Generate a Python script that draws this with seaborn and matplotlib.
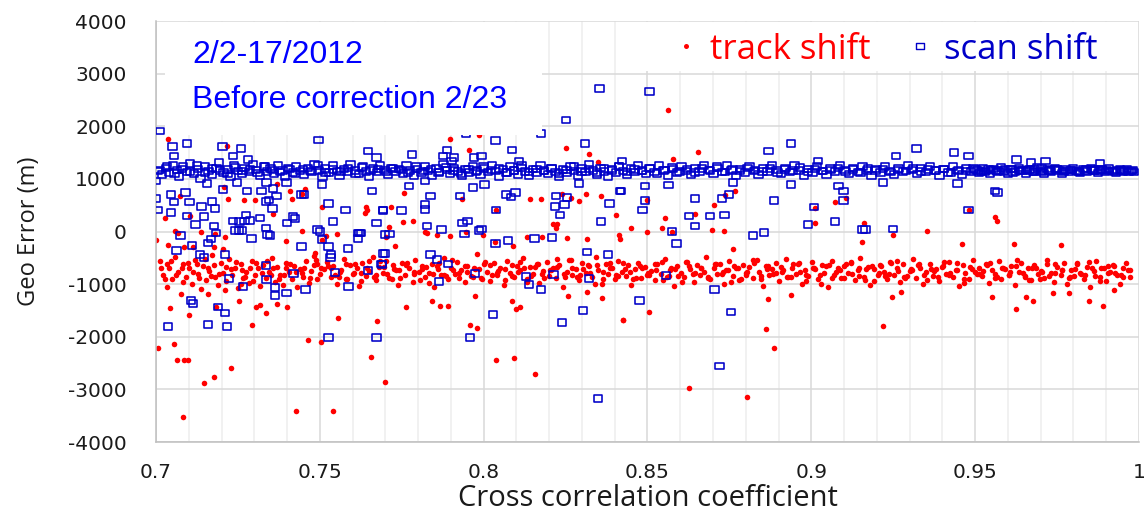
import pandas as pd
import matplotlib
matplotlib.use("Agg")
import matplotlib.pyplot as plt
import seaborn as sns
from matplotlib.lines import Line2D
from matplotlib.patches import Rectangle
from matplotlib.path import Path
from matplotlib.ticker import MultipleLocator

# ---- data (cross correlation coefficient, geo error in m) ----
x_ticks = [0.7, 0.75, 0.8, 0.85, 0.9, 0.95, 1.0]
x_tick_labels = ["0.7", "0.75", "0.8", "0.85", "0.9", "0.95", "1"]
y_ticks = [-4000, -3000, -2000, -1000, 0, 1000, 2000, 3000, 4000]
y_tick_labels = ["-4000", "-3000", "-2000", "-1000", "0", "1000", "2000", "3000", "4000"]

series_names = ["track shift", "scan shift"]
title_lines = ["2/2-17/2012", "Before correction 2/23"]

# track shift: main cluster at low coefficients (0.70-0.75)
red_band_low = [
    (0.7012, -560), (0.7021, -820), (0.7033, -1050), (0.7041, -690), (0.7049, -900), (0.7058, -480), (0.7066, -760), (0.7075, -1180), (0.7084, -620), (0.7092, -860),
    (0.7101, -700), (0.7110, -990), (0.7119, -540), (0.7127, -800), (0.7136, -1100), (0.7145, -660), (0.7153, -920), (0.7162, -750), (0.7171, -450), (0.7180, -870),
    (0.7188, -1020), (0.7197, -600), (0.7206, -780), (0.7214, -940), (0.7223, -520), (0.7232, -830), (0.7240, -700), (0.7249, -1080), (0.7258, -610), (0.7266, -890),
    (0.7275, -760), (0.7284, -980), (0.7292, -560), (0.7301, -820), (0.7310, -700), (0.7318, -1040), (0.7327, -640), (0.7336, -880), (0.7344, -760), (0.7353, -500),
    (0.7362, -950), (0.7370, -680), (0.7379, -830), (0.7388, -1010), (0.7396, -590), (0.7405, -770), (0.7414, -900), (0.7422, -650), (0.7431, -1060), (0.7440, -720),
    (0.7448, -860), (0.7457, -560), (0.7466, -980), (0.7474, -750), (0.7483, -640), (0.7492, -900), (0.7500, -800),
    (0.7035, -620), (0.7078, -700), (0.7125, -620), (0.7168, -850), (0.7215, -680), (0.7262, -740), (0.7305, -600), (0.7352, -820), (0.7398, -700), (0.7445, -780), (0.7490, -620),
    (0.7016, -700), (0.7029, -900), (0.7047, -560), (0.7062, -830), (0.7081, -960), (0.7097, -600), (0.7113, -760), (0.7131, -880), (0.7149, -520), (0.7158, -700),
    (0.7177, -640), (0.7193, -800), (0.7211, -1120), (0.7228, -720), (0.7245, -580), (0.7271, -860), (0.7288, -700), (0.7297, -940), (0.7323, -780), (0.7340, -560),
    (0.7358, -700), (0.7375, -900), (0.7392, -820), (0.7410, -620), (0.7427, -760), (0.7452, -700), (0.7470, -880), (0.7487, -540), (0.7505, -690), (0.7259, -1000),
]

# track shift: main cluster, first pass (0.75-1.0)
red_band_a = [
    (0.7512, -720), (0.7521, -580), (0.7533, -860), (0.7540, -650), (0.7552, -990), (0.7561, -770), (0.7573, -520), (0.7580, -900), (0.7592, -630), (0.7600, -810),
    (0.7613, -700), (0.7621, -1040), (0.7630, -600), (0.7642, -840), (0.7650, -750), (0.7661, -480), (0.7673, -920), (0.7680, -680), (0.7692, -790), (0.7701, -560),
    (0.7710, -880), (0.7722, -640), (0.7731, -730), (0.7740, -1010), (0.7752, -590), (0.7760, -820), (0.7771, -700), (0.7783, -950), (0.7790, -540), (0.7802, -760),
    (0.7811, -660), (0.7820, -870), (0.7832, -780), (0.7841, -610), (0.7850, -1060), (0.7862, -720), (0.7871, -830), (0.7880, -500), (0.7892, -910), (0.7901, -690),
    (0.7913, -800), (0.7920, -570), (0.7931, -740), (0.7942, -960), (0.7950, -650), (0.7961, -850), (0.7973, -710), (0.7980, -430), (0.7991, -890), (0.8002, -620),
    (0.8011, -760), (0.8020, -940), (0.8032, -600), (0.8041, -820), (0.8050, -690), (0.8062, -1020), (0.8071, -560), (0.8080, -780), (0.8092, -870), (0.8101, -650),
    (0.8110, -730), (0.8121, -510), (0.8133, -900), (0.8140, -680), (0.8151, -800), (0.8162, -620), (0.8170, -980), (0.8181, -750), (0.8193, -580), (0.8200, -840),
    (0.8211, -700), (0.8222, -880), (0.8230, -640), (0.8241, -1050), (0.8253, -770), (0.8260, -540), (0.8271, -820), (0.8282, -710), (0.8290, -930), (0.8301, -600),
    (0.8312, -790), (0.8320, -660), (0.8331, -860), (0.8343, -480), (0.8350, -740), (0.8361, -990), (0.8372, -620), (0.8380, -810), (0.8391, -700), (0.8402, -900),
    (0.8410, -560), (0.8421, -770), (0.8433, -850), (0.8440, -640), (0.8451, -1010), (0.8462, -720), (0.8470, -590), (0.8481, -880), (0.8492, -680), (0.8500, -830),
    (0.8511, -750), (0.8522, -930), (0.8530, -610), (0.8541, -800), (0.8553, -530), (0.8560, -870), (0.8571, -700), (0.8582, -1040), (0.8590, -650), (0.8601, -790),
    (0.8612, -860), (0.8620, -580), (0.8631, -720), (0.8643, -960), (0.8650, -640), (0.8661, -820), (0.8672, -760), (0.8680, -490), (0.8691, -900), (0.8702, -690),
    (0.8711, -810), (0.8720, -620), (0.8732, -1000), (0.8741, -740), (0.8750, -560), (0.8762, -850), (0.8771, -700), (0.8780, -920), (0.8792, -630), (0.8801, -780),
    (0.8810, -680), (0.8821, -890), (0.8833, -550), (0.8840, -770), (0.8851, -1030), (0.8862, -650), (0.8870, -830), (0.8881, -720), (0.8892, -600), (0.8900, -940),
    (0.8911, -760), (0.8922, -520), (0.8930, -870), (0.8941, -690), (0.8953, -800), (0.8960, -620), (0.8971, -990), (0.8982, -730), (0.8990, -850), (0.9001, -580),
    (0.9010, -710), (0.9021, -910), (0.9033, -640), (0.9040, -780), (0.9051, -1050), (0.9062, -560), (0.9070, -820), (0.9081, -700), (0.9092, -880), (0.9100, -660),
    (0.9111, -790), (0.9120, -600), (0.9132, -930), (0.9141, -740), (0.9150, -510), (0.9161, -860), (0.9173, -680), (0.9180, -1010), (0.9191, -720), (0.9202, -830),
    (0.9210, -640), (0.9221, -770), (0.9232, -900), (0.9240, -580), (0.9251, -820), (0.9262, -700), (0.9270, -960), (0.9281, -620), (0.9293, -850), (0.9300, -750),
    (0.9311, -530), (0.9320, -880), (0.9331, -690), (0.9342, -1000), (0.9350, -760), (0.9361, -610), (0.9372, -840), (0.9380, -720), (0.9391, -940), (0.9402, -660),
    (0.9410, -800), (0.9421, -570), (0.9433, -870), (0.9440, -730), (0.9451, -1040), (0.9462, -640), (0.9470, -790), (0.9481, -910), (0.9492, -550), (0.9500, -760),
    (0.9511, -690), (0.9520, -850), (0.9532, -620), (0.9541, -980), (0.9550, -740), (0.9561, -800), (0.9572, -560), (0.9580, -900), (0.9591, -710), (0.9602, -830),
    (0.9610, -650), (0.9621, -1020), (0.9633, -770), (0.9640, -590), (0.9651, -860), (0.9662, -700), (0.9670, -930), (0.9681, -630), (0.9692, -810), (0.9700, -750),
    (0.9711, -880), (0.9720, -540), (0.9732, -780), (0.9741, -960), (0.9750, -670), (0.9761, -820), (0.9772, -600), (0.9780, -1000), (0.9791, -730), (0.9802, -850),
    (0.9810, -620), (0.9821, -790), (0.9833, -900), (0.9840, -680), (0.9851, -1050), (0.9862, -750), (0.9870, -560), (0.9881, -870), (0.9892, -700), (0.9900, -940),
    (0.9911, -760), (0.9920, -640), (0.9932, -830), (0.9941, -1000), (0.9950, -700), (0.9961, -590), (0.9972, -860),
]

# track shift: main cluster, second pass (denser core)
red_band_b = [
    (0.7525, -650), (0.7546, -820), (0.7565, -740), (0.7584, -900), (0.7606, -610), (0.7625, -780), (0.7644, -700), (0.7666, -860), (0.7685, -560), (0.7704, -800),
    (0.7726, -720), (0.7745, -880), (0.7764, -640), (0.7786, -760), (0.7805, -930), (0.7824, -680), (0.7846, -810), (0.7865, -600), (0.7884, -850), (0.7906, -740),
    (0.7925, -790), (0.7944, -660), (0.7966, -870), (0.7985, -710), (0.8004, -580), (0.8026, -830), (0.8045, -750), (0.8064, -920), (0.8086, -630), (0.8105, -770),
    (0.8124, -700), (0.8146, -840), (0.8165, -620), (0.8184, -890), (0.8206, -730), (0.8225, -670), (0.8244, -800), (0.8266, -550), (0.8285, -860), (0.8304, -720),
    (0.8326, -780), (0.8345, -640), (0.8364, -910), (0.8386, -700), (0.8405, -820), (0.8424, -600), (0.8446, -760), (0.8465, -880), (0.8484, -690), (0.8506, -830),
    (0.8525, -740), (0.8544, -580), (0.8566, -850), (0.8585, -720), (0.8604, -950), (0.8626, -650), (0.8645, -790), (0.8664, -700), (0.8686, -870), (0.8705, -620),
    (0.8726, -810), (0.8745, -730), (0.8764, -660), (0.8786, -900), (0.8805, -760), (0.8824, -590), (0.8846, -840), (0.8865, -710), (0.8884, -800), (0.8906, -680),
    (0.8925, -860), (0.8944, -620), (0.8966, -770), (0.8985, -940), (0.9004, -700), (0.9026, -830), (0.9045, -650), (0.9064, -880), (0.9086, -740), (0.9105, -610),
    (0.9124, -800), (0.9146, -700), (0.9165, -920), (0.9184, -660), (0.9206, -780), (0.9225, -850), (0.9244, -600), (0.9266, -750), (0.9285, -890), (0.9304, -720),
    (0.9326, -640), (0.9345, -820), (0.9364, -710), (0.9386, -870), (0.9405, -580), (0.9424, -790), (0.9446, -730), (0.9465, -900), (0.9484, -670), (0.9506, -810),
    (0.9525, -750), (0.9544, -600), (0.9566, -860), (0.9585, -700), (0.9604, -830), (0.9626, -650), (0.9645, -780), (0.9664, -920), (0.9686, -690), (0.9705, -760),
    (0.9726, -840), (0.9745, -620), (0.9764, -730), (0.9786, -880), (0.9805, -710), (0.9824, -800), (0.9846, -570), (0.9865, -850), (0.9884, -700), (0.9906, -780),
    (0.9925, -660), (0.9944, -820), (0.9965, -740),
]

# track shift: main cluster, third pass
red_band_c = [
    (0.7535, -700), (0.7558, -860), (0.7581, -620), (0.7604, -780), (0.7627, -940), (0.7650, -560), (0.7673, -820), (0.7696, -680), (0.7719, -900), (0.7742, -740),
    (0.7765, -600), (0.7788, -800), (0.7811, -720), (0.7834, -970), (0.7857, -650), (0.7880, -830), (0.7903, -540), (0.7926, -880), (0.7949, -760), (0.7972, -690),
    (0.7995, -910), (0.8018, -630), (0.8041, -790), (0.8064, -710), (0.8087, -850), (0.8110, -580), (0.8133, -950), (0.8156, -670), (0.8179, -810), (0.8202, -740),
    (0.8225, -520), (0.8248, -870), (0.8271, -700), (0.8294, -820), (0.8317, -640), (0.8340, -990), (0.8363, -760), (0.8386, -590), (0.8409, -840), (0.8432, -720),
    (0.8455, -900), (0.8478, -660), (0.8501, -780), (0.8524, -610), (0.8547, -930), (0.8570, -740), (0.8593, -850), (0.8616, -570), (0.8639, -800), (0.8662, -690),
    (0.8685, -880), (0.8708, -620), (0.8731, -760), (0.8754, -960), (0.8777, -700), (0.8800, -830), (0.8823, -550), (0.8846, -910), (0.8869, -650), (0.8892, -790),
    (0.8915, -730), (0.8938, -870), (0.8961, -600), (0.8984, -820), (0.9007, -690), (0.9030, -1000), (0.9053, -640), (0.9076, -770), (0.9099, -890), (0.9122, -580),
    (0.9145, -840), (0.9168, -710), (0.9191, -940), (0.9214, -660), (0.9237, -800), (0.9260, -560), (0.9283, -860), (0.9306, -730), (0.9329, -620), (0.9352, -920),
    (0.9375, -750), (0.9398, -680), (0.9421, -830), (0.9444, -590), (0.9467, -970), (0.9490, -720), (0.9513, -810), (0.9536, -640), (0.9559, -880), (0.9582, -700),
    (0.9605, -760), (0.9628, -540), (0.9651, -850), (0.9674, -690), (0.9697, -910), (0.9720, -620), (0.9743, -790), (0.9766, -730), (0.9789, -860), (0.9812, -600),
    (0.9835, -820), (0.9858, -700), (0.9881, -940), (0.9904, -650), (0.9927, -780), (0.9950, -870), (0.9973, -730),
]

# track shift: scattered points away from the main cluster
red_outliers = [
    (0.7038, 1766), (0.7216, 1625), (0.7073, 673), (0.7220, 620), (0.7270, 590), (0.7302, 600), (0.7207, 851), (0.7368, 895), (0.7409, 768), (0.7414, 610),
    (0.7447, 720), (0.7454, 800), (0.7508, 470), (0.7642, 470), (0.7645, 400), (0.7637, 350), (0.7027, 248), (0.7104, 292), (0.7357, 324), (0.7058, 6),
    (0.7067, -20), (0.7000, -165), (0.7137, 0), (0.7180, -40), (0.7210, -95), (0.7038, -250), (0.7086, -290), (0.7114, -300), (0.7176, -300), (0.7205, -330),
    (0.7447, 6), (0.7398, -171), (0.7508, -165), (0.7520, -89), (0.7553, -38), (0.7486, -400), (0.7482, -470),
    (0.7043, -1454), (0.7102, -1581), (0.7183, -1435), (0.7254, -1314), (0.7306, -1435), (0.7316, -1397), (0.7159, -1187), (0.7337, -1549), (0.7368, -1372), (0.7401, -1435),
    (0.7294, -1772), (0.7554, -1645), (0.7674, -1709), (0.7464, -2057), (0.7503, -2101), (0.7007, -2216), (0.7056, -2134), (0.7063, -2438), (0.7086, -2438), (0.7097, -2438),
    (0.7146, -2882), (0.7178, -2768), (0.7229, -2585), (0.7081, -3518), (0.7426, -3404), (0.7541, -3404), (0.7655, -2375), (0.7699, -2857), (0.8037, -2438), (0.8094, -2406),
    (0.8158, -2705),
    (0.7896, 1766), (0.7985, 1829), (0.7954, 1548), (0.8252, 1581), (0.8321, 1467), (0.8348, 1320), (0.7756, 737), (0.7718, 463), (0.7935, 623), (0.8140, 610),
    (0.8176, 623), (0.8240, 705), (0.8267, 642), (0.8290, 577), (0.8311, 705), (0.8359, 673), (0.8405, 311), (0.8037, 406), (0.7754, 178), (0.7784, 196),
    (0.7820, 0), (0.7826, -20), (0.7858, -60), (0.7898, -80), (0.7945, -10), (0.7998, -60), (0.8034, -203), (0.8090, -280), (0.8132, -100), (0.8178, -110),
    (0.8253, -120), (0.8314, -140), (0.8412, -60), (0.8416, -140), (0.8220, 70), (0.8212, 140), (0.8225, 140), (0.7710, 89), (0.7701, -110), (0.7729, -280),
    (0.7841, -1327), (0.7866, -1410), (0.7891, -1410), (0.7762, -1435), (0.8087, -1314), (0.8098, -1473), (0.8112, -1435), (0.7973, -1232), (0.7957, -1772), (0.7979, -1835),
    (0.8425, -1676), (0.8362, -1263), (0.8316, -1150), (0.8257, -1230),
    (0.8564, 2311), (0.8653, 1518), (0.8577, 1372), (0.8768, 768), (0.8738, 700), (0.8704, 495), (0.8646, 324), (0.8552, 260), (0.8499, 590), (0.8450, 70),
    (0.8545, 70), (0.8499, -13), (0.8575, 0), (0.8697, 38), (0.8735, 6), (0.9072, 559), (0.9106, 642), (0.9011, 451), (0.9011, 165), (0.9162, 165),
    (0.9155, -203), (0.8760, -324), (0.8869, -1282), (0.8506, -1530), (0.8425, -1676), (0.8938, -1200), (0.8862, -1854), (0.8887, -2216), (0.8628, -2970), (0.8805, -3150),
    (0.9481, 406), (0.9561, 280), (0.9568, 196), (0.9352, 19), (0.9250, -57), (0.9459, -229), (0.9619, -229), (0.9763, -261), (0.9218, -1804), (0.9624, -1473),
    (0.9656, -1251), (0.9677, -1314), (0.9846, -1314), (0.9890, -1410), (0.9245, -1251), (0.9275, -1156), (0.9552, -1251), (0.9738, -1168), (0.9786, -1168), (0.9924, -1105),
]

# scan shift: main cluster just above 1000 m
blue_band = [
    (0.7005, 1150), (0.7018, 1080), (0.7031, 1210), (0.7040, 1120), (0.7052, 1260), (0.7064, 1170), (0.7071, 1050), (0.7083, 1230), (0.7095, 1130), (0.7104, 1290),
    (0.7117, 1100), (0.7128, 1190), (0.7136, 1010), (0.7149, 1240), (0.7160, 1150), (0.7172, 1080), (0.7185, 1200), (0.7193, 1310), (0.7206, 1120), (0.7218, 1180),
    (0.7227, 1040), (0.7239, 1250), (0.7251, 1150), (0.7263, 1090), (0.7270, 1210), (0.7284, 1130), (0.7296, 1280), (0.7305, 1170), (0.7318, 1060), (0.7329, 1230),
    (0.7338, 1140), (0.7350, 1200), (0.7361, 1100), (0.7373, 1260), (0.7386, 1160), (0.7394, 1050), (0.7407, 1190), (0.7419, 1120), (0.7428, 1240), (0.7440, 1150),
    (0.7452, 1080), (0.7463, 1210), (0.7475, 1130), (0.7484, 1280), (0.7497, 1160), (0.7508, 1050),
    (0.7516, 1200), (0.7529, 1120), (0.7541, 1250), (0.7552, 1150), (0.7560, 1060), (0.7573, 1190), (0.7585, 1130), (0.7594, 1270), (0.7607, 1160), (0.7619, 1090),
    (0.7628, 1220), (0.7640, 1140), (0.7651, 1040), (0.7663, 1200), (0.7675, 1130), (0.7684, 1260), (0.7697, 1170), (0.7709, 1080), (0.7718, 1210), (0.7731, 1140),
    (0.7742, 1190), (0.7754, 1100), (0.7765, 1250), (0.7776, 1160), (0.7788, 1060), (0.7797, 1190), (0.7810, 1120), (0.7822, 1230), (0.7831, 1150), (0.7843, 1070),
    (0.7856, 1200), (0.7864, 1130), (0.7877, 1280), (0.7889, 1170), (0.7898, 1090), (0.7910, 1210), (0.7922, 1140), (0.7933, 1060), (0.7945, 1190), (0.7956, 1120),
    (0.7968, 1240), (0.7979, 1160), (0.7990, 1080), (0.8002, 1200), (0.8013, 1130), (0.8025, 1260), (0.8036, 1150), (0.8047, 1050), (0.8059, 1190), (0.8071, 1120),
    (0.8080, 1230), (0.8093, 1160), (0.8104, 1080), (0.8116, 1210), (0.8127, 1140), (0.8139, 1060), (0.8150, 1190), (0.8161, 1120), (0.8173, 1250), (0.8184, 1160),
    (0.8196, 1090), (0.8207, 1200), (0.8219, 1130), (0.8230, 1040), (0.8242, 1180), (0.8253, 1110), (0.8265, 1240), (0.8276, 1150), (0.8288, 1070), (0.8299, 1200),
    (0.8311, 1130), (0.8322, 1270), (0.8334, 1160), (0.8345, 1080), (0.8357, 1210), (0.8368, 1140), (0.8380, 1050), (0.8391, 1190), (0.8403, 1120), (0.8414, 1230),
    (0.8426, 1150), (0.8437, 1080), (0.8449, 1200), (0.8460, 1130), (0.8472, 1260), (0.8483, 1160), (0.8495, 1090),
    (0.8508, 1200), (0.8521, 1130), (0.8535, 1250), (0.8549, 1160), (0.8563, 1070), (0.8577, 1190), (0.8590, 1120), (0.8604, 1230), (0.8618, 1150), (0.8632, 1080),
    (0.8646, 1200), (0.8659, 1140), (0.8673, 1260), (0.8687, 1170), (0.8701, 1090), (0.8714, 1210), (0.8728, 1130), (0.8742, 1250), (0.8756, 1160), (0.8770, 1070),
    (0.8783, 1190), (0.8797, 1120), (0.8811, 1230), (0.8825, 1150), (0.8839, 1080), (0.8852, 1200), (0.8866, 1140), (0.8880, 1260), (0.8894, 1170), (0.8908, 1090),
    (0.8921, 1210), (0.8935, 1130), (0.8949, 1250), (0.8963, 1160), (0.8977, 1070), (0.8990, 1190), (0.9004, 1120), (0.9018, 1240), (0.9032, 1150), (0.9046, 1080),
    (0.9059, 1200), (0.9073, 1140), (0.9087, 1260), (0.9101, 1170), (0.9115, 1090), (0.9128, 1210), (0.9142, 1130), (0.9156, 1240), (0.9170, 1160), (0.9184, 1070),
    (0.9197, 1190), (0.9211, 1120), (0.9225, 1230), (0.9239, 1150), (0.9253, 1080), (0.9266, 1200), (0.9280, 1140), (0.9294, 1250), (0.9308, 1170), (0.9322, 1090),
    (0.9335, 1210), (0.9349, 1130), (0.9363, 1240), (0.9377, 1160), (0.9391, 1070), (0.9404, 1190), (0.9418, 1120), (0.9432, 1230), (0.9446, 1150), (0.9460, 1080),
    (0.9473, 1200), (0.9487, 1140),
    (0.9501, 1180), (0.9512, 1110), (0.9523, 1210), (0.9534, 1150), (0.9545, 1090), (0.9556, 1190), (0.9567, 1130), (0.9578, 1220), (0.9589, 1160), (0.9600, 1100),
    (0.9611, 1190), (0.9622, 1140), (0.9633, 1210), (0.9644, 1160), (0.9655, 1090), (0.9666, 1180), (0.9677, 1130), (0.9688, 1220), (0.9699, 1150), (0.9710, 1100),
    (0.9721, 1190), (0.9732, 1140), (0.9743, 1200), (0.9754, 1160), (0.9765, 1100), (0.9776, 1180), (0.9787, 1130), (0.9798, 1210), (0.9809, 1150), (0.9820, 1110),
    (0.9831, 1190), (0.9842, 1140), (0.9853, 1200), (0.9864, 1160), (0.9875, 1110), (0.9886, 1180), (0.9897, 1130), (0.9908, 1200), (0.9919, 1150), (0.9930, 1120),
    (0.9941, 1180), (0.9952, 1140), (0.9963, 1190), (0.9974, 1150), (0.9985, 1130),
]

# scan shift: main cluster, second pass (it reads as an almost solid bar)
blue_band_b = [
    (0.7011, 1170), (0.7034, 1230), (0.7057, 1100), (0.7080, 1190), (0.7103, 1140), (0.7126, 1250), (0.7149, 1120), (0.7172, 1200), (0.7195, 1160), (0.7218, 1090),
    (0.7241, 1220), (0.7264, 1150), (0.7287, 1180), (0.7310, 1110), (0.7333, 1240), (0.7356, 1170), (0.7379, 1130), (0.7402, 1210), (0.7425, 1090), (0.7448, 1190),
    (0.7471, 1150), (0.7494, 1260), (0.7517, 1120), (0.7540, 1180), (0.7563, 1140), (0.7586, 1210), (0.7609, 1100), (0.7632, 1230), (0.7655, 1160), (0.7678, 1190),
    (0.7701, 1130), (0.7724, 1200), (0.7747, 1170), (0.7770, 1110), (0.7793, 1240), (0.7816, 1150), (0.7839, 1190), (0.7862, 1120), (0.7885, 1220), (0.7908, 1160),
    (0.7931, 1100), (0.7954, 1180), (0.7977, 1140), (0.8000, 1230), (0.8023, 1170), (0.8046, 1200), (0.8069, 1120), (0.8092, 1160), (0.8115, 1250), (0.8138, 1130),
    (0.8161, 1190), (0.8184, 1150), (0.8207, 1210), (0.8230, 1100), (0.8253, 1170), (0.8276, 1230), (0.8299, 1140), (0.8322, 1190), (0.8345, 1120), (0.8368, 1200),
    (0.8391, 1160), (0.8414, 1240), (0.8437, 1130), (0.8460, 1180), (0.8483, 1150), (0.8506, 1210), (0.8529, 1100), (0.8552, 1170), (0.8575, 1220), (0.8598, 1140),
    (0.8621, 1190), (0.8644, 1120), (0.8667, 1200), (0.8690, 1160), (0.8713, 1230), (0.8736, 1130), (0.8759, 1180), (0.8782, 1150), (0.8805, 1210), (0.8828, 1170),
    (0.8851, 1140), (0.8874, 1200), (0.8897, 1120), (0.8920, 1180), (0.8943, 1160), (0.8966, 1220), (0.8989, 1130), (0.9012, 1190), (0.9035, 1150), (0.9058, 1170),
    (0.9081, 1210), (0.9104, 1140), (0.9127, 1180), (0.9150, 1120), (0.9173, 1200), (0.9196, 1160), (0.9219, 1190), (0.9242, 1130), (0.9265, 1170), (0.9288, 1150),
    (0.9311, 1200), (0.9334, 1140), (0.9357, 1180), (0.9380, 1160), (0.9403, 1190), (0.9426, 1120), (0.9449, 1170), (0.9472, 1150), (0.9495, 1200), (0.9518, 1140),
    (0.9541, 1180), (0.9564, 1160), (0.9587, 1130), (0.9610, 1190), (0.9633, 1150), (0.9656, 1170), (0.9679, 1140), (0.9702, 1200), (0.9725, 1160), (0.9748, 1180),
    (0.9771, 1150), (0.9794, 1170), (0.9817, 1140), (0.9840, 1190), (0.9863, 1160), (0.9886, 1180), (0.9909, 1150), (0.9932, 1170), (0.9955, 1160), (0.9978, 1150),
    (0.9507, 1160), (0.9528, 1130), (0.9549, 1170), (0.9571, 1150), (0.9592, 1190), (0.9616, 1120), (0.9638, 1170), (0.9659, 1150), (0.9682, 1180), (0.9704, 1130),
    (0.9727, 1160), (0.9749, 1190), (0.9770, 1140), (0.9792, 1170), (0.9815, 1130), (0.9836, 1160), (0.9858, 1180), (0.9880, 1150), (0.9902, 1170), (0.9924, 1140),
    (0.9946, 1160), (0.9968, 1130), (0.9980, 1170),
]

# scan shift: scattered points away from the main cluster
blue_outliers = [
    (0.7012, 1910), (0.7050, 1613), (0.7095, 1676), (0.7056, 1435), (0.7203, 1613), (0.7260, 1575), (0.7235, 1435), (0.7280, 1372), (0.7496, 1740), (0.7648, 1530),
    (0.7673, 1410), (0.7000, 960), (0.7000, 623), (0.7007, 406), (0.7045, 705), (0.7056, 559), (0.7045, 356), (0.7090, 737), (0.7102, 559), (0.7094, 292),
    (0.7121, 133), (0.7139, 470), (0.7147, 280), (0.7172, 566), (0.7180, 438), (0.7177, 102), (0.7205, 800), (0.7248, 927), (0.7156, 916), (0.7277, 768),
    (0.7322, 768), (0.7358, 813), (0.7368, 673), (0.7335, 570), (0.7345, 600), (0.7356, 432), (0.7274, 311), (0.7317, 260), (0.7236, 200), (0.7255, 190),
    (0.7270, 200), (0.7286, 210), (0.7243, 19), (0.7253, 19), (0.7262, 19), (0.7183, -25), (0.7167, -140), (0.7159, -216), (0.7075, -70), (0.7109, -261),
    (0.7063, -356), (0.7134, -438), (0.7147, -500), (0.7210, -438), (0.7292, -133), (0.7335, 70), (0.7340, -60), (0.7348, -80), (0.7400, 165), (0.7419, 280),
    (0.7424, 242), (0.7444, 705), (0.7452, 705), (0.7398, 927), (0.7337, 927), (0.7507, 895), (0.7527, 527), (0.7578, 406), (0.7540, 196), (0.7493, 38),
    (0.7500, 6), (0.7507, -152), (0.7527, -280), (0.7535, -438), (0.7533, -500), (0.7444, -280), (0.7420, -800), (0.7335, -642), (0.7337, -914), (0.7363, -1061),
    (0.7363, -1219), (0.7398, -1168), (0.7456, -1105), (0.7223, -895), (0.7266, -1042), (0.7588, -1042), (0.7546, -775), (0.7647, -737), (0.7693, -419), (0.7688, -615),
    (0.7107, -1314), (0.7114, -1372), (0.7190, -1435), (0.7210, -1549), (0.7037, -1804), (0.7159, -1772), (0.7217, -1804), (0.7527, -2013), (0.7673, -2013), (0.7660, 768),
    (0.7693, 406), (0.7673, 165), (0.7617, -25), (0.7621, -25), (0.7625, -25), (0.7617, -133), (0.7586, -324), (0.7698, -57),
    (0.8252, 2120), (0.8176, 1861), (0.7947, 1861), (0.8036, 1734), (0.8309, 1676), (0.7889, 1548), (0.7876, 1435), (0.7909, 1404), (0.7902, 1340), (0.7970, 1404),
    (0.7993, 1435), (0.7781, 1467), (0.8086, 1548), (0.8108, 1340), (0.8422, 1340), (0.7772, 863), (0.7820, 958), (0.7967, 832), (0.8003, 895), (0.7838, 673),
    (0.7927, 673), (0.8069, 705), (0.8084, 653), (0.8097, 737), (0.8290, 914), (0.8221, 673), (0.8255, 642), (0.8247, 514), (0.8218, 470), (0.8232, 311),
    (0.8384, 527), (0.8417, 768), (0.7693, 400), (0.7749, 400), (0.7820, 420), (0.7820, 514), (0.8037, 406), (0.8359, 196), (0.7828, 102), (0.7871, 38),
    (0.7935, 165), (0.7951, 200), (0.7942, -44), (0.7985, 19), (0.7993, 51), (0.7713, -44), (0.8036, -229), (0.8074, -165), (0.8155, -133), (0.8208, -108),
    (0.7698, -419), (0.7690, -629), (0.7838, -438), (0.7858, -533), (0.7891, -615), (0.7864, -946), (0.7973, -800), (0.8130, -851), (0.8138, -1010), (0.8176, -1105),
    (0.8213, -819), (0.8316, -387), (0.8379, -438), (0.8321, -895), (0.8303, -1499), (0.8240, -1728), (0.8028, -1581), (0.7959, -2013),
    (0.8354, 2720), (0.8506, 2660),
    (0.8938, 1676), (0.8869, 1530), (0.9021, 1340), (0.8493, 863), (0.8564, 882), (0.8938, 895), (0.8760, 927), (0.9083, 863), (0.9098, 768), (0.8420, 768),
    (0.8493, 590), (0.8485, 406), (0.8646, 623), (0.8728, 623), (0.8748, 705), (0.8887, 590), (0.9009, 463), (0.9098, 590), (0.8626, 292), (0.8691, 292),
    (0.8735, 311), (0.8646, 102), (0.8575, 6), (0.8589, -229), (0.8823, -70), (0.8855, -13), (0.8989, 133), (0.9073, 196), (0.9156, 38), (0.9165, 38),
    (0.8557, -832), (0.8705, -1105), (0.8476, -1314), (0.8755, -1530), (0.8720, -2553), (0.8349, -3170),
    (0.9321, 1581), (0.9258, 1435), (0.9436, 1499), (0.9480, 1435), (0.9626, 1372), (0.9715, 1340), (0.9670, 1309), (0.9880, 1295), (0.9218, 927), (0.9446, 914),
    (0.9561, 768), (0.9568, 737), (0.9480, 406), (0.9250, 51),
]

RED = "#FF0000"
BLUE = "#0000C8"
TITLE_BLUE = "#0000FF"

track = pd.DataFrame(red_band_low + red_band_a + red_band_b + red_band_c + red_outliers,
                     columns=["cc", "geo_err"])
scan = pd.DataFrame(blue_band + blue_band_b + blue_outliers, columns=["cc", "geo_err"])

sns.set_style("white")
plt.rcParams["font.family"] = ["DejaVu Sans"]

fig = plt.figure(figsize=(11.46, 5.15), dpi=100)
ax = fig.add_axes([0.1361, 0.1417, 0.8578, 0.8175])

# hollow squares, a bit wider than tall like the original
box_marker = Path([(-1.25, -1), (1.25, -1), (1.25, 1), (-1.25, 1), (-1.25, -1)], closed=True)

sns.scatterplot(data=track, x="cc", y="geo_err", ax=ax, color=RED, marker="o",
                s=16, linewidth=0, zorder=2, legend=False)
sns.scatterplot(data=scan, x="cc", y="geo_err", ax=ax, color=BLUE, marker=box_marker,
                s=36, facecolor="none", edgecolor=BLUE, linewidth=1.15, zorder=3, legend=False)

ax.set_xlim(0.7, 1.0)
ax.set_ylim(-4000, 4000)
ax.set_xticks(x_ticks, x_tick_labels)
ax.set_yticks(y_ticks, y_tick_labels)
ax.xaxis.set_minor_locator(MultipleLocator(0.01))
ax.set_axisbelow(True)
ax.grid(which="major", axis="both", color="#D9D9D9", linewidth=1.1)
ax.grid(which="minor", axis="x", color="#EEEEEE", linewidth=1.1)
ax.tick_params(which="both", length=0, labelsize=14.5, labelcolor="#1A1A1A")
ax.tick_params(axis="y", pad=21)
ax.tick_params(axis="x", pad=15)
for side in ["top", "right"]:
    ax.spines[side].set_visible(False)
for side in ["left", "bottom"]:
    ax.spines[side].set_color("#BFBFBF")
    ax.spines[side].set_linewidth(1.1)

ax.set_xlabel("Cross correlation coefficient", family="Open Sans", fontsize=21, color="#1A1A1A")
ax.set_ylabel("Geo Error (m)", family="Open Sans", fontsize=17, color="#1A1A1A")
ax.xaxis.set_label_coords(0.5, -0.100)
ax.yaxis.set_label_coords(-0.117, 0.5)

# white boxes behind the annotation and the legend (they hide the grid)
ax.add_patch(Rectangle((0.0091, 0.729), 0.3835, 0.2686, transform=ax.transAxes,
                       facecolor="white", edgecolor="none", zorder=4))
ax.add_patch(Rectangle((0.472, 0.881), 0.495, 0.1166, transform=ax.transAxes,
                       facecolor="white", edgecolor="none", zorder=4))

ax.text(0.0366, 0.900, title_lines[0], transform=ax.transAxes, family="Liberation Sans",
        fontsize=23, color=TITLE_BLUE, va="baseline", zorder=5)
ax.text(0.0366, 0.793, title_lines[1], transform=ax.transAxes, family="Liberation Sans",
        fontsize=23, color=TITLE_BLUE, va="baseline", zorder=5)

handles = [
    Line2D([], [], ls="none", marker="o", color=RED, markersize=3.6, markeredgewidth=0),
    Line2D([], [], ls="none", marker=box_marker, markerfacecolor="none",
           markeredgecolor=BLUE, markersize=5.5, markeredgewidth=1.0),
]
leg = ax.legend(handles, series_names, ncol=2, loc="center", bbox_to_anchor=(0.745, 0.932),
                frameon=False, prop={"family": "Open Sans", "size": 25},
                handlelength=0.4, handletextpad=0.49, columnspacing=1.24, borderpad=0)
for txt, col in zip(leg.get_texts(), [RED, BLUE]):
    txt.set_color(col)
leg.set_zorder(6)

fig.savefig("out.png", dpi=100)
